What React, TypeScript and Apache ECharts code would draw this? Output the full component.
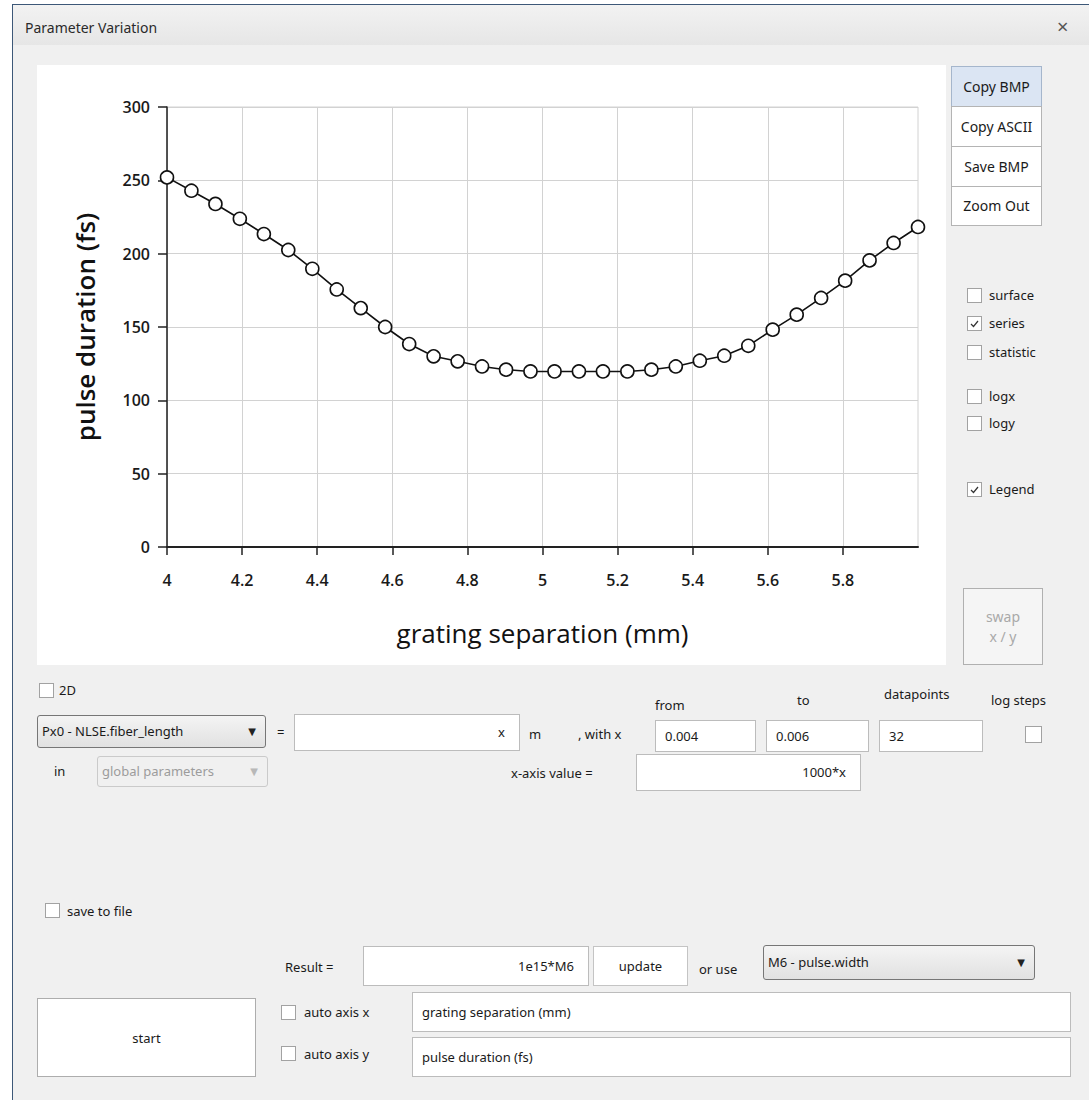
import React, { useEffect, useRef } from "react";
import * as echarts from "echarts";

// Sweep of the grating separation (mm), 32 points between 4 and 6
const SEPARATION_MM = [
  4.0, 4.065, 4.129, 4.194, 4.258, 4.323, 4.387, 4.452, 4.516, 4.581, 4.645,
  4.71, 4.774, 4.839, 4.903, 4.968, 5.032, 5.097, 5.161, 5.226, 5.29, 5.355,
  5.419, 5.484, 5.548, 5.613, 5.677, 5.742, 5.806, 5.871, 5.935, 6.0,
];

// Resulting pulse duration (fs)
const PULSE_FS = [
  252.0, 242.9, 233.9, 223.8, 213.4, 202.5, 189.7, 175.6, 162.9, 150.0, 138.4,
  130.0, 126.6, 123.1, 120.9, 119.7, 119.7, 119.7, 119.7, 119.7, 120.9, 123.1,
  127.0, 130.4, 137.2, 148.2, 158.4, 169.8, 181.6, 195.4, 207.3, 218.2,
];

const X_TICKS = [4, 4.2, 4.4, 4.6, 4.8, 5, 5.2, 5.4, 5.6, 5.8];
const Y_TICKS = [0, 50, 100, 150, 200, 250, 300];

const X_TITLE = "grating separation (mm)";
const Y_TITLE = "pulse duration (fs)";

const CHART_FONT = "'Open Sans', 'Noto Sans', sans-serif";
const UI_FONT = "'Noto Sans', 'DejaVu Sans', sans-serif";

function Chart() {
  const ref = useRef<HTMLDivElement>(null);
  useEffect(() => {
    if (!ref.current) return;
    const chart = echarts.init(ref.current, null, { renderer: "svg" });
    chart.setOption({
      animation: false,
      backgroundColor: "#ffffff",
      grid: {
        left: 130,
        top: 42,
        right: 28,
        bottom: 118,
        show: true,
        borderColor: "#d2d2d2",
        borderWidth: 1,
        backgroundColor: "transparent",
      },
      xAxis: {
        type: "value",
        min: 4,
        max: 6,
        interval: 0.2,
        name: X_TITLE,
        nameLocation: "middle",
        nameGap: 73,
        nameTextStyle: { fontSize: 26, color: "#111", fontFamily: CHART_FONT, fontWeight: 500 },
        axisLine: { show: true, onZero: false, lineStyle: { color: "#222", width: 2 } },
        axisTick: {
          show: true,
          length: 8,
          customValues: X_TICKS,
          lineStyle: { color: "#222", width: 1.5 },
        },
        axisLabel: {
          fontSize: 16,
          color: "#1a1a1a",
          fontWeight: 600,
          margin: 25,
          fontFamily: CHART_FONT,
          customValues: X_TICKS,
          formatter: (v: number) => String(Math.round(v * 10) / 10),
        },
        splitLine: { show: true, lineStyle: { color: "#d2d2d2", width: 1 } },
      },
      yAxis: {
        type: "value",
        min: 0,
        max: 300,
        interval: 50,
        name: Y_TITLE,
        nameLocation: "middle",
        nameGap: 69,
        nameRotate: 90,
        nameTextStyle: { fontSize: 26, color: "#111", fontFamily: CHART_FONT, fontWeight: 600 },
        axisLine: { show: true, lineStyle: { color: "#222", width: 1.5 } },
        axisTick: {
          show: true,
          length: 9,
          customValues: Y_TICKS,
          lineStyle: { color: "#222", width: 1.5 },
        },
        axisLabel: {
          fontSize: 16,
          color: "#1a1a1a",
          fontWeight: 600,
          margin: 17,
          fontFamily: CHART_FONT,
          customValues: Y_TICKS,
        },
        splitLine: { show: true, lineStyle: { color: "#d2d2d2", width: 1 } },
      },
      series: [
        {
          type: "line",
          data: SEPARATION_MM.map((x, i) => [x, PULSE_FS[i]]),
          symbol: "circle",
          symbolSize: 13,
          lineStyle: { color: "#111", width: 1.6 },
          itemStyle: { color: "#ffffff", borderColor: "#111", borderWidth: 1.6 },
          z: 3,
        },
      ],
    });
    return () => chart.dispose();
  }, []);
  return (
    <div
      ref={ref}
      style={{ position: "absolute", left: 37, top: 65, width: 909, height: 600 }}
    />
  );
}

type Pos = { x: number; y: number };

function Label({ x, y, text, color = "#1a1a1a", size = 13 }: Pos & { text: string; color?: string; size?: number }) {
  return (
    <div
      style={{
        position: "absolute",
        left: x,
        top: y - 9,
        height: 18,
        lineHeight: "18px",
        fontSize: size,
        color,
        whiteSpace: "nowrap",
      }}
    >
      {text}
    </div>
  );
}

function Check({ x, y, checked = false, size = 15 }: Pos & { checked?: boolean; size?: number }) {
  return (
    <div
      style={{
        position: "absolute",
        left: x,
        top: y,
        width: size,
        height: size,
        boxSizing: "border-box",
        border: "1px solid #a2a2a2",
        background: "#ffffff",
      }}
    >
      {checked && (
        <svg width={size - 2} height={size - 2} style={{ position: "absolute", left: 0, top: 0 }}>
          <polyline points="3,7 5.5,9.5 10,4" fill="none" stroke="#333" strokeWidth={1.2} />
        </svg>
      )}
    </div>
  );
}

function TextBox({ x, y, w, h, text = "", align = "left" }: Pos & { w: number; h: number; text?: string; align?: "left" | "right" }) {
  return (
    <div
      style={{
        position: "absolute",
        left: x,
        top: y,
        width: w,
        height: h,
        boxSizing: "border-box",
        border: "1px solid #bcbcbc",
        background: "#ffffff",
        fontSize: 13,
        color: "#1a1a1a",
        lineHeight: `${h - 2}px`,
        textAlign: align,
        padding: align === "left" ? "0 0 0 9px" : "0 14px 0 0",
        whiteSpace: "nowrap",
      }}
    >
      {text}
    </div>
  );
}

function Button({ x, y, w, h, text, bg = "#ffffff", border = "#adadad", color = "#1a1a1a", size = 13 }: Pos & { w: number; h: number; text: React.ReactNode; bg?: string; border?: string; color?: string; size?: number }) {
  return (
    <div
      style={{
        position: "absolute",
        left: x,
        top: y,
        width: w,
        height: h,
        boxSizing: "border-box",
        border: `1px solid ${border}`,
        background: bg,
        color,
        fontSize: size,
        display: "flex",
        alignItems: "center",
        justifyContent: "center",
        textAlign: "center",
        lineHeight: "20px",
      }}
    >
      {text}
    </div>
  );
}

function Combo({ x, y, w, h, text, disabled = false }: Pos & { w: number; h: number; text: string; disabled?: boolean }) {
  return (
    <div
      style={{
        position: "absolute",
        left: x,
        top: y,
        width: w,
        height: h,
        boxSizing: "border-box",
        border: `1px solid ${disabled ? "#cacaca" : "#767676"}`,
        borderRadius: 3,
        background: disabled ? "#f0f0f0" : "linear-gradient(#f4f4f4, #e1e1e1)",
        fontSize: 13,
        color: disabled ? "#9c9c9c" : "#1a1a1a",
      }}
    >
      <div
        style={{
          position: "absolute",
          left: 4,
          top: 0,
          width: w - 34,
          height: h - 2,
          lineHeight: `${h - 2}px`,
          overflow: "hidden",
          whiteSpace: "nowrap",
        }}
      >
        {text}
      </div>
      <div
        style={{
          position: "absolute",
          right: 9,
          top: 0,
          height: h - 2,
          lineHeight: `${h - 2}px`,
          fontSize: 10,
          color: disabled ? "#b8b8b8" : "#222",
        }}
      >
        ▼
      </div>
    </div>
  );
}

export default function App() {
  return (
    <div
      style={{
        position: "absolute",
        left: 0,
        top: 0,
        width: 1089,
        height: 1100,
        background: "#ffffff",
        overflow: "hidden",
        fontFamily: UI_FONT,
      }}
    >
      {/* window frame */}
      <div
        style={{
          position: "absolute",
          left: 12,
          top: 4,
          width: 1077,
          height: 1096,
          boxSizing: "border-box",
          borderLeft: "1px solid #3d5878",
          borderTop: "1px solid #3d5878",
          background: "#f0f0f0",
        }}
      />
      {/* title bar */}
      <div
        style={{
          position: "absolute",
          left: 13,
          top: 5,
          width: 1076,
          height: 40,
          background: "linear-gradient(#f2f2f2, #e6e6e6)",
        }}
      />
      <Label x={25} y={28} text="Parameter Variation" size={14} color="#2a2a2a" />
      <Label x={1057} y={27} text="×" size={20} color="#555" />

      <Chart />

      {/* right-hand controls */}
      <Button x={951} y={66} w={91} h={41} text="Copy BMP" bg="#dbe5f3" border="#a5b6cc" size={14} />
      <Button x={951} y={106} w={91} h={41} text="Copy ASCII" border="#b4b4b4" size={14} />
      <Button x={951} y={146} w={91} h={41} text="Save BMP" border="#b4b4b4" size={14} />
      <Button x={951} y={186} w={91} h={40} text="Zoom Out" border="#b4b4b4" size={14} />

      <Check x={967} y={288} />
      <Label x={989} y={295} text="surface" />
      <Check x={967} y={316} checked />
      <Label x={989} y={323} text="series" />
      <Check x={967} y={345} />
      <Label x={989} y={352} text="statistic" />
      <Check x={967} y={389} />
      <Label x={989} y={396} text="logx" />
      <Check x={967} y={416} />
      <Label x={989} y={423} text="logy" />
      <Check x={967} y={482} checked />
      <Label x={989} y={489} text="Legend" />

      <Button
        x={963}
        y={588}
        w={80}
        h={77}
        bg="#f5f5f5"
        border="#b0b0b0"
        color="#a9a9a9"
        size={14}
        text={
          <span>
            swap
            <br />x / y
          </span>
        }
      />

      {/* parameter sweep row */}
      <Check x={39} y={683} />
      <Label x={59} y={690} text="2D" />
      <Combo x={37} y={715} w={229} h={33} text="Px0 - NLSE.fiber_length" />
      <Label x={277} y={732} text="=" />
      <TextBox x={294} y={714} w={226} h={37} text="x" align="right" />
      <Label x={529} y={734} text="m" />
      <Label x={578} y={734} text=", with x" />
      <Label x={655} y={705} text="from" />
      <Label x={797} y={700} text="to" />
      <Label x={884} y={694} text="datapoints" />
      <Label x={991} y={700} text="log steps" />
      <TextBox x={655} y={720} w={101} h={32} text="0.004" />
      <TextBox x={766} y={720} w={103} h={32} text="0.006" />
      <TextBox x={879} y={720} w={104} h={32} text="32" />
      <Check x={1025} y={726} size={17} />

      <Label x={54} y={771} text="in" />
      <Combo x={97} y={756} w={171} h={31} text="global parameters" disabled />
      <Label x={511} y={773} text="x-axis value =" />
      <TextBox x={636} y={754} w={225} h={37} text="1000*x" align="right" />

      {/* output row */}
      <Check x={45} y={903} />
      <Label x={67} y={911} text="save to file" />
      <Label x={285} y={967} text="Result =" />
      <TextBox x={363} y={946} w={226} h={40} text="1e15*M6" align="right" />
      <Button x={593} y={946} w={95} h={40} text="update" border="#c4c4c4" />
      <Label x={699} y={969} text="or use" />
      <Combo x={763} y={945} w={272} h={35} text="M6 - pulse.width" />

      <Button x={37} y={998} w={219} h={79} text="start" border="#adadad" />
      <Check x={281} y={1005} />
      <Label x={304} y={1012} text="auto axis x" />
      <TextBox x={412} y={992} w={659} h={40} text={X_TITLE} />
      <Check x={281} y={1046} />
      <Label x={304} y={1054} text="auto axis y" />
      <TextBox x={412} y={1037} w={659} h={40} text={Y_TITLE} />
    </div>
  );
}
